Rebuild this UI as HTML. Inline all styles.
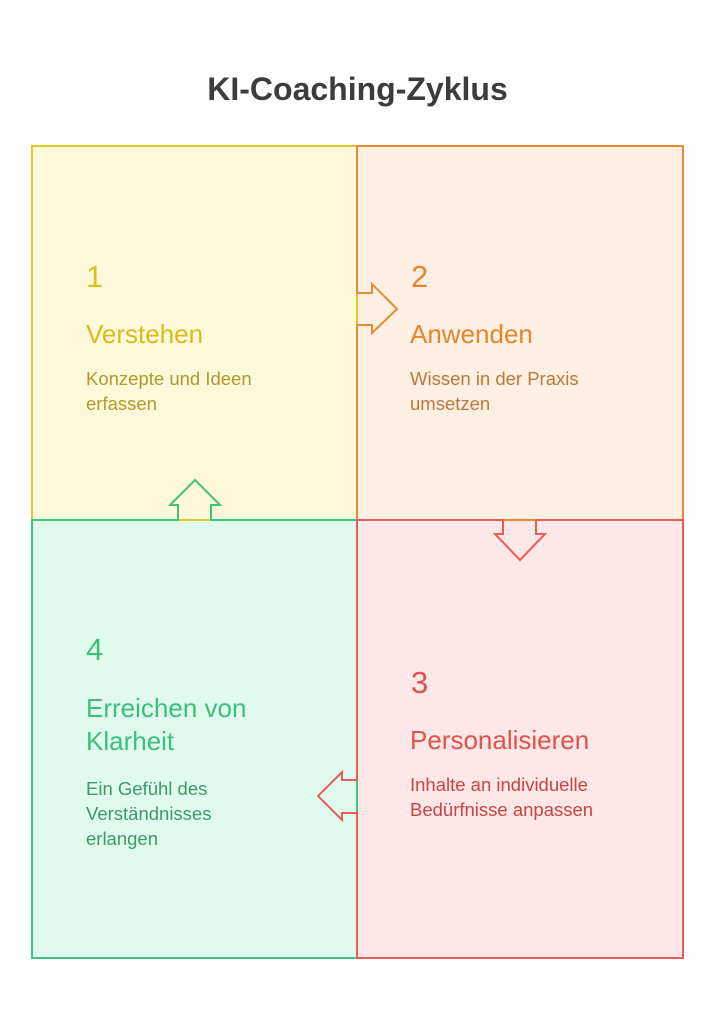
<!DOCTYPE html>
<html><head><meta charset="utf-8"><style>
html,body{margin:0;padding:0;background:#fff;}
svg text{font-family:"Liberation Sans",Arial,sans-serif;}
</style></head><body>
<svg width="715" height="1024" viewBox="0 0 715 1024" xmlns="http://www.w3.org/2000/svg">
<rect width="715" height="1024" fill="#fff"/>
<text x="357.5" y="100" text-anchor="middle" font-size="32" font-weight="bold" fill="#3c3c3c">KI-Coaching-Zyklus</text>
<!-- fills -->
<rect x="32" y="146" width="325" height="374" fill="#fef8da"/>
<rect x="357" y="146" width="326" height="374" fill="#fdefe2"/>
<rect x="32" y="520" width="325" height="438" fill="#e0fbee"/>
<rect x="357" y="520" width="326" height="438" fill="#fde8e7"/>
<!-- outlines -->
<rect x="32" y="146" width="325" height="374" fill="none" stroke="#e1c92f" stroke-width="2"/>
<polygon points="357,146 683,146 683,520 357,520 357,325 372,325 372,333 397,309 372,284 372,293 357,293" fill="none" stroke="#e38b35" stroke-width="2"/>
<polygon points="32,520 178,520 178,505 170,505 195,480 220,505 211,505 211,520 357,520 357,958 32,958" fill="none" stroke="#3fc47f" stroke-width="2"/>
<polygon points="357,520 503,520 503,534 495,534 520,560 545,534 536,534 536,520 683,520 683,958 357,958 357,813 342,813 342,820 318,796 342,772 342,780 357,780" fill="none" stroke="#e85c5c" stroke-width="2"/>
<!-- texts yellow -->
<text x="86" y="287" font-size="31" fill="#dcc020">1</text>
<text x="86" y="343" font-size="26" fill="#d8bc1c">Verstehen</text>
<text x="86" y="385" font-size="18.5" fill="#ad9a2a">Konzepte und Ideen</text>
<text x="86" y="410" font-size="18.5" fill="#ad9a2a">erfassen</text>
<!-- orange -->
<text x="411" y="287" font-size="31" fill="#e3862d">2</text>
<text x="410" y="343" font-size="26" fill="#e3862d">Anwenden</text>
<text x="410" y="385" font-size="18.5" fill="#b87a3e">Wissen in der Praxis</text>
<text x="410" y="410" font-size="18.5" fill="#b87a3e">umsetzen</text>
<!-- green -->
<text x="86" y="660" font-size="31" fill="#3cbf79">4</text>
<text x="86" y="717" font-size="26" fill="#3cbf79">Erreichen von</text>
<text x="86" y="750" font-size="26" fill="#3cbf79">Klarheit</text>
<text x="86" y="795" font-size="18.5" fill="#3d9a68">Ein Gefühl des</text>
<text x="86" y="820" font-size="18.5" fill="#3d9a68">Verständnisses</text>
<text x="86" y="845" font-size="18.5" fill="#3d9a68">erlangen</text>
<!-- red -->
<text x="411" y="693" font-size="31" fill="#e25050">3</text>
<text x="410" y="749" font-size="26" fill="#e25050">Personalisieren</text>
<text x="410" y="791" font-size="18.5" fill="#c94444">Inhalte an individuelle</text>
<text x="410" y="816" font-size="18.5" fill="#c94444">Bedürfnisse anpassen</text>
</svg>
</body></html>
